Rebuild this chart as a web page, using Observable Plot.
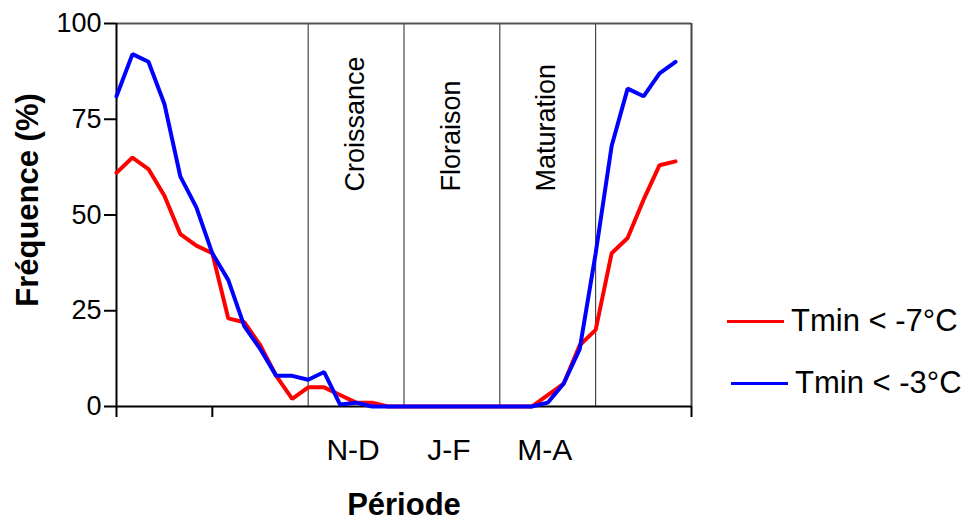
<!DOCTYPE html>
<html>
<head>
<meta charset="utf-8">
<script src="https://cdn.jsdelivr.net/npm/d3@7"></script>
<script src="https://cdn.jsdelivr.net/npm/@observablehq/plot@0.6"></script>
<style>
  html, body { margin: 0; padding: 0; background: #fff; }
  #wrap { position: relative; width: 967px; height: 521px; font-family: "Liberation Sans", Arial, sans-serif; }
  #legend { position: absolute; left: 0; top: 0; width: 967px; height: 521px; pointer-events: none; }
  .lg-item { position: absolute; display: flex; align-items: center; font-size: 31px; color: #000; white-space: nowrap; }
  .lg-swatch { width: 57px; height: 3px; margin-right: 7px; }
  svg [aria-label="y-axis tick"], svg [aria-label="x-axis tick"] { stroke-width: 2px; }
</style>
</head>
<body>
<div id="wrap"><div id="chart"></div><div id="legend"></div></div>
<script>
// Period index (36 steps, 6 per two-month block)
const steps = d3.range(36);
const seriesNames = ["Tmin < -7°C", "Tmin < -3°C"];
const seriesColors = ["#ff0000", "#0000ff"];
const redValues  = [61,65,62,55,45,42,40,23,22,16,8,2,5,5,3,1,1,0,0,0,0,0,0,0,0,0,0,3,6,16,20,40,44,54,63,64];
const blueValues = [81,92,90,79,60,52,40,33,21,15,8,8,7,9,0.5,1,0,0,0,0,0,0,0,0,0,0,0,1,6,15,40,68,83,81,87,90];
const phaseBounds = [12, 18, 24, 30];
const phaseCenters = [15, 21, 27];
const phaseNames = ["Croissance", "Floraison", "Maturation"];
const periodLabels = ["N-D", "J-F", "M-A"];
const yTicks = [0, 25, 50, 75, 100];
const xTicks = [0, 6, 36];

const rows = [];
steps.forEach((s, i) => {
  rows.push({x: s, y: redValues[i], series: seriesNames[0]});
});
steps.forEach((s, i) => {
  rows.push({x: s, y: blueValues[i], series: seriesNames[1]});
});
const phases = phaseCenters.map((c, i) => ({x: c, name: phaseNames[i], period: periodLabels[i]}));

const chart = Plot.plot({
  width: 967,
  height: 521,
  marginLeft: 116,
  marginRight: 276,
  marginTop: 23,
  marginBottom: 115,
  style: {fontFamily: '"Liberation Sans", Arial, sans-serif', fontSize: "27px", color: "#000", background: "#fff"},
  x: {domain: [0, 36], ticks: xTicks, tickFormat: () => "", tickSize: 11, label: null},
  y: {domain: [0, 100], ticks: yTicks, tickSize: 12, tickPadding: 3, label: null},
  color: {domain: seriesNames, range: seriesColors},
  marks: [
    Plot.ruleX(phaseBounds, {stroke: "#222", strokeWidth: 1}),
    Plot.ruleY([100], {stroke: "#555", strokeWidth: 2}),
    Plot.ruleX([36], {stroke: "#444", strokeWidth: 2}),
    Plot.ruleX([0], {stroke: "#000", strokeWidth: 2}),
    Plot.ruleY([0], {stroke: "#000", strokeWidth: 2}),
    Plot.line(rows, {x: "x", y: "y", z: "series", stroke: "series", strokeWidth: 4, strokeLinejoin: "miter"}),
    Plot.text(phases, {x: "x", text: "name", frameAnchor: "top", dy: 168, dx: -1, rotate: -90, textAnchor: "start", lineAnchor: "middle", fontSize: 27, fill: "#000"}),
    Plot.text(phases, {x: "x", text: "period", frameAnchor: "bottom", dy: 44, dx: -3, textAnchor: "middle", lineAnchor: "middle", fontSize: 30, fill: "#000"}),
    Plot.text(["Période"], {frameAnchor: "bottom", dy: 99, textAnchor: "middle", lineAnchor: "middle", fontSize: 31, fontWeight: "bold", fill: "#000"}),
    Plot.text(["Fréquence (%)"], {frameAnchor: "left", dx: -88, dy: -15, rotate: -90, textAnchor: "middle", lineAnchor: "middle", fontSize: 31, fontWeight: "bold", fill: "#000"})
  ]
});
document.getElementById("chart").appendChild(chart);

// Legend
const legend = document.getElementById("legend");
const legendPos = [{left: 727, top: 321}, {left: 731, top: 383}];
seriesNames.forEach((name, i) => {
  const item = document.createElement("div");
  item.className = "lg-item";
  item.style.left = legendPos[i].left + "px";
  item.style.top = (legendPos[i].top - 20) + "px";
  item.style.height = "40px";
  const sw = document.createElement("div");
  sw.className = "lg-swatch";
  sw.style.background = seriesColors[i];
  const tx = document.createElement("span");
  tx.textContent = name;
  item.appendChild(sw);
  item.appendChild(tx);
  legend.appendChild(item);
});
</script>
</body>
</html>
